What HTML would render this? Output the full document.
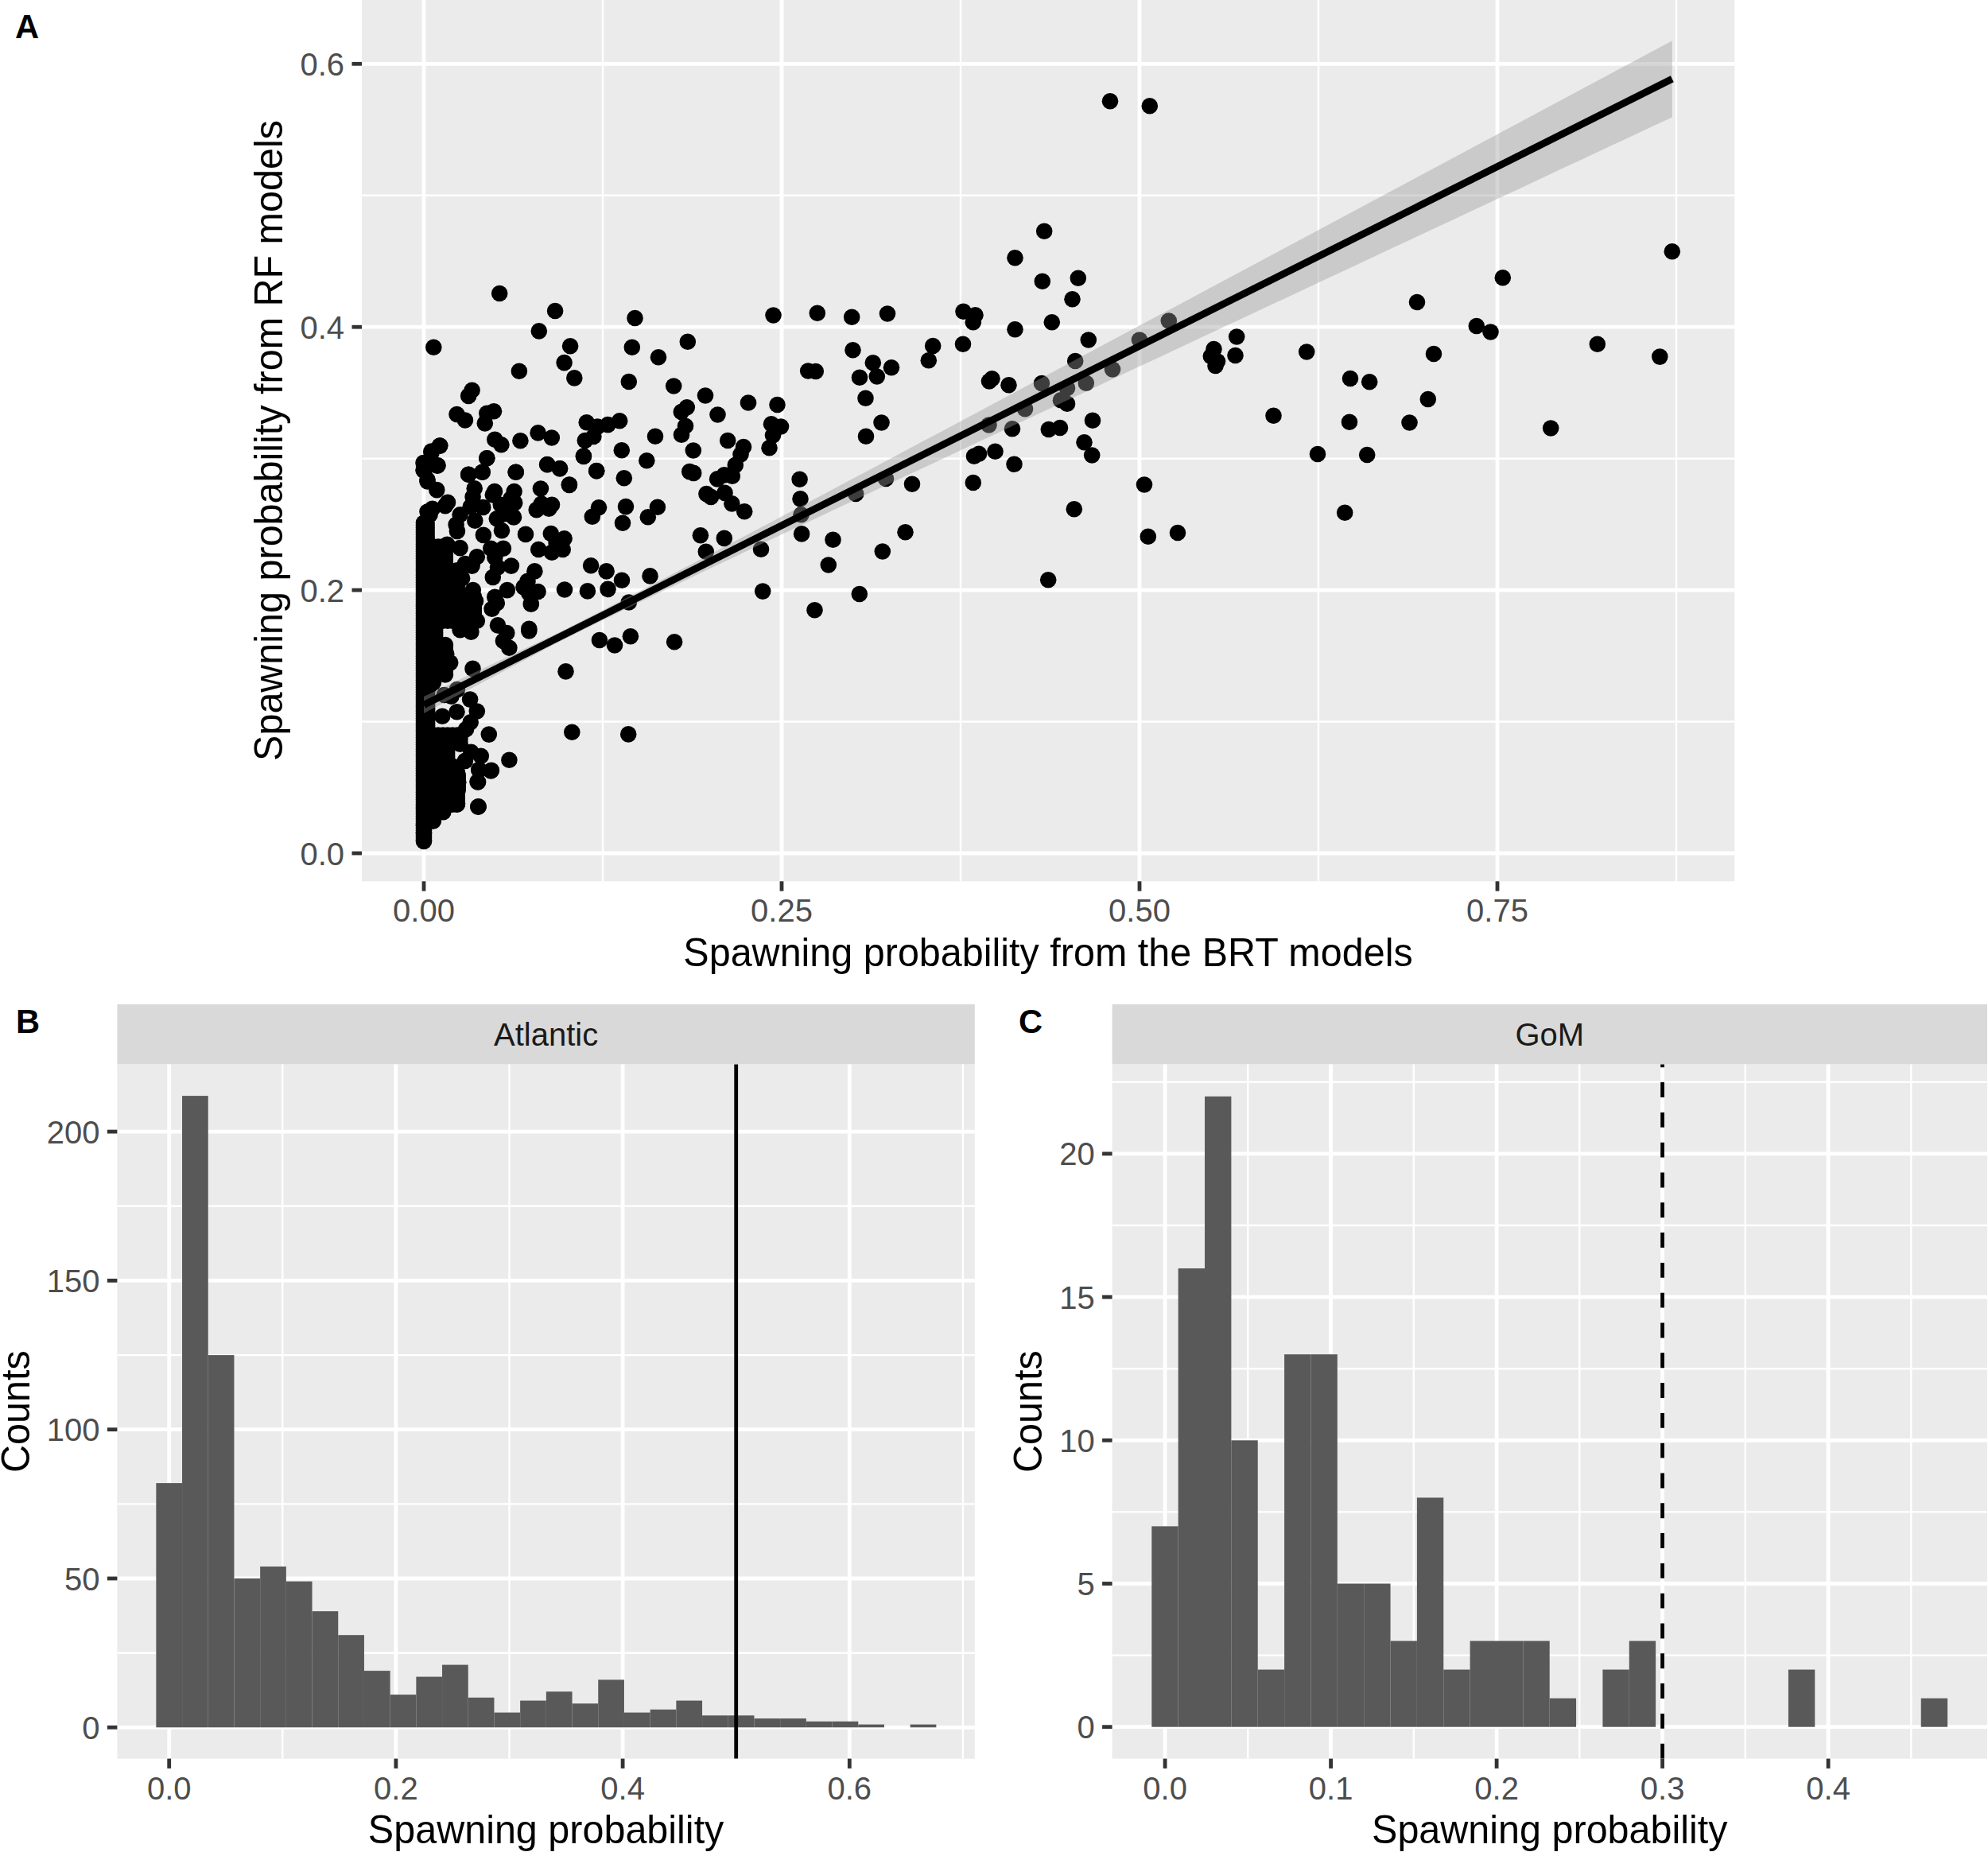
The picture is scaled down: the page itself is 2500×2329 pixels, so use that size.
<!DOCTYPE html><html><head><meta charset="utf-8"><title>Figure</title>
<style>html,body{margin:0;padding:0;background:#fff}svg{display:block}text{font-family:"Liberation Sans",sans-serif}</style></head><body>
<svg width="2500" height="2329" viewBox="0 0 2500 2329">
<rect width="2500" height="2329" fill="#fff"/>
<rect x="455.0" y="0.0" width="1726.3000000000002" height="1108.3" fill="#EBEBEB"/>
<g stroke="#fff" stroke-width="2.4">
<line x1="758.0" x2="758.0" y1="0.0" y2="1108.3"/>
<line x1="1208.0" x2="1208.0" y1="0.0" y2="1108.3"/>
<line x1="1658.0" x2="1658.0" y1="0.0" y2="1108.3"/>
<line x1="2108.0" x2="2108.0" y1="0.0" y2="1108.3"/>
<line y1="907.5" y2="907.5" x1="455.0" x2="2181.3"/>
<line y1="576.7" y2="576.7" x1="455.0" x2="2181.3"/>
<line y1="245.8" y2="245.8" x1="455.0" x2="2181.3"/>
</g>
<g stroke="#fff" stroke-width="4.8">
<line x1="533.0" x2="533.0" y1="0.0" y2="1108.3"/>
<line x1="983.0" x2="983.0" y1="0.0" y2="1108.3"/>
<line x1="1433.0" x2="1433.0" y1="0.0" y2="1108.3"/>
<line x1="1883.0" x2="1883.0" y1="0.0" y2="1108.3"/>
<line y1="1073.0" y2="1073.0" x1="455.0" x2="2181.3"/>
<line y1="742.1" y2="742.1" x1="455.0" x2="2181.3"/>
<line y1="411.2" y2="411.2" x1="455.0" x2="2181.3"/>
<line y1="80.3" y2="80.3" x1="455.0" x2="2181.3"/>
</g>
<g fill="#000">
<circle cx="1889.8" cy="349.2" r="10.3"/>
<circle cx="1782.0" cy="380.0" r="10.3"/>
<circle cx="1856.8" cy="410.0" r="10.3"/>
<circle cx="1874.5" cy="417.5" r="10.3"/>
<circle cx="1555.2" cy="423.5" r="10.3"/>
<circle cx="1526.5" cy="439.0" r="10.3"/>
<circle cx="1522.8" cy="448.0" r="10.3"/>
<circle cx="1531.0" cy="454.5" r="10.3"/>
<circle cx="1528.5" cy="460.0" r="10.3"/>
<circle cx="1553.5" cy="447.0" r="10.3"/>
<circle cx="1643.2" cy="442.5" r="10.3"/>
<circle cx="1803.0" cy="445.0" r="10.3"/>
<circle cx="1698.0" cy="476.0" r="10.3"/>
<circle cx="1722.2" cy="480.2" r="10.3"/>
<circle cx="1795.8" cy="502.0" r="10.3"/>
<circle cx="1601.5" cy="522.8" r="10.3"/>
<circle cx="1697.0" cy="530.8" r="10.3"/>
<circle cx="1772.5" cy="531.5" r="10.3"/>
<circle cx="1950.2" cy="538.5" r="10.3"/>
<circle cx="1657.0" cy="571.0" r="10.3"/>
<circle cx="1719.2" cy="572.0" r="10.3"/>
<circle cx="1313.2" cy="290.8" r="10.3"/>
<circle cx="1276.5" cy="324.2" r="10.3"/>
<circle cx="1310.8" cy="353.8" r="10.3"/>
<circle cx="1355.8" cy="349.8" r="10.3"/>
<circle cx="1348.5" cy="376.2" r="10.3"/>
<circle cx="1027.8" cy="393.8" r="10.3"/>
<circle cx="1071.2" cy="398.8" r="10.3"/>
<circle cx="1116.0" cy="394.5" r="10.3"/>
<circle cx="1211.5" cy="391.8" r="10.3"/>
<circle cx="1226.5" cy="396.2" r="10.3"/>
<circle cx="1223.8" cy="405.2" r="10.3"/>
<circle cx="1322.8" cy="405.2" r="10.3"/>
<circle cx="1276.5" cy="414.2" r="10.3"/>
<circle cx="1368.8" cy="427.5" r="10.3"/>
<circle cx="1469.8" cy="403.5" r="10.3"/>
<circle cx="1433.0" cy="427.5" r="10.3"/>
<circle cx="1072.5" cy="440.2" r="10.3"/>
<circle cx="1173.2" cy="435.0" r="10.3"/>
<circle cx="1211.0" cy="432.8" r="10.3"/>
<circle cx="1167.8" cy="453.2" r="10.3"/>
<circle cx="1097.8" cy="456.2" r="10.3"/>
<circle cx="1121.0" cy="462.2" r="10.3"/>
<circle cx="1025.8" cy="467.0" r="10.3"/>
<circle cx="1081.0" cy="474.8" r="10.3"/>
<circle cx="1102.8" cy="473.5" r="10.3"/>
<circle cx="1352.2" cy="454.0" r="10.3"/>
<circle cx="1399.0" cy="464.5" r="10.3"/>
<circle cx="1247.5" cy="476.2" r="10.3"/>
<circle cx="1244.0" cy="479.5" r="10.3"/>
<circle cx="1268.5" cy="484.2" r="10.3"/>
<circle cx="1310.0" cy="482.0" r="10.3"/>
<circle cx="1342.0" cy="488.0" r="10.3"/>
<circle cx="1365.8" cy="481.8" r="10.3"/>
<circle cx="1088.5" cy="500.8" r="10.3"/>
<circle cx="1334.0" cy="503.2" r="10.3"/>
<circle cx="1342.0" cy="507.8" r="10.3"/>
<circle cx="1289.0" cy="514.2" r="10.3"/>
<circle cx="1108.5" cy="531.5" r="10.3"/>
<circle cx="1374.0" cy="528.8" r="10.3"/>
<circle cx="1243.5" cy="534.5" r="10.3"/>
<circle cx="1273.0" cy="539.2" r="10.3"/>
<circle cx="1318.8" cy="540.0" r="10.3"/>
<circle cx="1333.0" cy="538.0" r="10.3"/>
<circle cx="1089.0" cy="548.8" r="10.3"/>
<circle cx="1363.5" cy="556.2" r="10.3"/>
<circle cx="1373.2" cy="572.5" r="10.3"/>
<circle cx="1231.0" cy="570.8" r="10.3"/>
<circle cx="1225.0" cy="573.8" r="10.3"/>
<circle cx="1251.5" cy="567.8" r="10.3"/>
<circle cx="1275.5" cy="583.8" r="10.3"/>
<circle cx="1114.0" cy="602.0" r="10.3"/>
<circle cx="1147.0" cy="608.8" r="10.3"/>
<circle cx="1223.8" cy="607.0" r="10.3"/>
<circle cx="1439.0" cy="609.5" r="10.3"/>
<circle cx="1076.2" cy="621.0" r="10.3"/>
<circle cx="1350.8" cy="640.2" r="10.3"/>
<circle cx="1138.5" cy="669.2" r="10.3"/>
<circle cx="1047.5" cy="678.8" r="10.3"/>
<circle cx="1109.8" cy="693.5" r="10.3"/>
<circle cx="1041.8" cy="710.5" r="10.3"/>
<circle cx="1443.8" cy="674.8" r="10.3"/>
<circle cx="1481.0" cy="670.0" r="10.3"/>
<circle cx="1318.2" cy="729.2" r="10.3"/>
<circle cx="1080.8" cy="747.0" r="10.3"/>
<circle cx="1024.5" cy="767.2" r="10.3"/>
<circle cx="1396.0" cy="127.2" r="10.3"/>
<circle cx="1445.8" cy="133.2" r="10.3"/>
<circle cx="628.2" cy="369.0" r="10.3"/>
<circle cx="798.5" cy="400.0" r="10.3"/>
<circle cx="972.5" cy="396.5" r="10.3"/>
<circle cx="794.8" cy="436.8" r="10.3"/>
<circle cx="864.8" cy="429.8" r="10.3"/>
<circle cx="828.0" cy="449.2" r="10.3"/>
<circle cx="790.8" cy="480.0" r="10.3"/>
<circle cx="847.2" cy="485.5" r="10.3"/>
<circle cx="1016.2" cy="466.5" r="10.3"/>
<circle cx="887.0" cy="497.5" r="10.3"/>
<circle cx="941.0" cy="506.5" r="10.3"/>
<circle cx="977.5" cy="509.0" r="10.3"/>
<circle cx="863.8" cy="512.2" r="10.3"/>
<circle cx="856.8" cy="518.0" r="10.3"/>
<circle cx="902.5" cy="521.5" r="10.3"/>
<circle cx="779.2" cy="529.2" r="10.3"/>
<circle cx="970.0" cy="533.2" r="10.3"/>
<circle cx="982.0" cy="536.5" r="10.3"/>
<circle cx="862.0" cy="535.8" r="10.3"/>
<circle cx="857.0" cy="546.8" r="10.3"/>
<circle cx="972.0" cy="547.5" r="10.3"/>
<circle cx="824.0" cy="548.8" r="10.3"/>
<circle cx="915.2" cy="554.0" r="10.3"/>
<circle cx="935.0" cy="562.0" r="10.3"/>
<circle cx="967.5" cy="563.2" r="10.3"/>
<circle cx="781.8" cy="566.2" r="10.3"/>
<circle cx="871.8" cy="566.5" r="10.3"/>
<circle cx="931.5" cy="571.5" r="10.3"/>
<circle cx="813.3" cy="579.3" r="10.3"/>
<circle cx="924.8" cy="584.9" r="10.3"/>
<circle cx="784.8" cy="601.2" r="10.3"/>
<circle cx="867.2" cy="593.1" r="10.3"/>
<circle cx="872.2" cy="594.9" r="10.3"/>
<circle cx="920.8" cy="598.7" r="10.3"/>
<circle cx="910.8" cy="597.4" r="10.3"/>
<circle cx="902.1" cy="602.4" r="10.3"/>
<circle cx="1005.6" cy="602.8" r="10.3"/>
<circle cx="888.4" cy="621.1" r="10.3"/>
<circle cx="894.0" cy="624.9" r="10.3"/>
<circle cx="911.5" cy="619.9" r="10.3"/>
<circle cx="920.4" cy="633.4" r="10.3"/>
<circle cx="936.2" cy="643.3" r="10.3"/>
<circle cx="1006.5" cy="627.4" r="10.3"/>
<circle cx="1007.5" cy="647.3" r="10.3"/>
<circle cx="1008.1" cy="671.4" r="10.3"/>
<circle cx="787.0" cy="637.1" r="10.3"/>
<circle cx="826.9" cy="637.7" r="10.3"/>
<circle cx="814.8" cy="650.2" r="10.3"/>
<circle cx="783.0" cy="657.7" r="10.3"/>
<circle cx="880.9" cy="673.3" r="10.3"/>
<circle cx="910.8" cy="676.9" r="10.3"/>
<circle cx="887.8" cy="693.7" r="10.3"/>
<circle cx="957.0" cy="690.7" r="10.3"/>
<circle cx="817.5" cy="724.4" r="10.3"/>
<circle cx="782.0" cy="729.7" r="10.3"/>
<circle cx="959.2" cy="743.6" r="10.3"/>
<circle cx="790.8" cy="757.5" r="10.3"/>
<circle cx="542.5" cy="567.5" r="10.3"/>
<circle cx="553.2" cy="560.6" r="10.3"/>
<circle cx="533.7" cy="582.5" r="10.3"/>
<circle cx="549.9" cy="585.6" r="10.3"/>
<circle cx="532.5" cy="591.2" r="10.3"/>
<circle cx="537.5" cy="605.5" r="10.3"/>
<circle cx="549.3" cy="616.1" r="10.3"/>
<circle cx="563.0" cy="631.7" r="10.3"/>
<circle cx="559.9" cy="636.1" r="10.3"/>
<circle cx="543.7" cy="639.8" r="10.3"/>
<circle cx="537.5" cy="643.6" r="10.3"/>
<circle cx="540.6" cy="647.3" r="10.3"/>
<circle cx="533.7" cy="658.6" r="10.3"/>
<circle cx="535.0" cy="667.3" r="10.3"/>
<circle cx="536.2" cy="676.0" r="10.3"/>
<circle cx="612.3" cy="576.2" r="10.3"/>
<circle cx="606.7" cy="593.7" r="10.3"/>
<circle cx="589.2" cy="596.8" r="10.3"/>
<circle cx="648.7" cy="593.7" r="10.3"/>
<circle cx="688.2" cy="584.3" r="10.3"/>
<circle cx="704.0" cy="589.3" r="10.3"/>
<circle cx="733.9" cy="573.5" r="10.3"/>
<circle cx="750.2" cy="592.2" r="10.3"/>
<circle cx="715.9" cy="609.9" r="10.3"/>
<circle cx="679.9" cy="614.5" r="10.3"/>
<circle cx="596.7" cy="614.3" r="10.3"/>
<circle cx="594.6" cy="624.9" r="10.3"/>
<circle cx="622.0" cy="618.0" r="10.3"/>
<circle cx="619.8" cy="622.4" r="10.3"/>
<circle cx="646.6" cy="618.0" r="10.3"/>
<circle cx="642.3" cy="627.4" r="10.3"/>
<circle cx="647.2" cy="632.4" r="10.3"/>
<circle cx="607.3" cy="638.0" r="10.3"/>
<circle cx="591.7" cy="637.3" r="10.3"/>
<circle cx="629.8" cy="634.8" r="10.3"/>
<circle cx="680.9" cy="633.6" r="10.3"/>
<circle cx="694.0" cy="634.8" r="10.3"/>
<circle cx="674.7" cy="641.1" r="10.3"/>
<circle cx="690.3" cy="639.8" r="10.3"/>
<circle cx="753.0" cy="638.2" r="10.3"/>
<circle cx="744.8" cy="649.8" r="10.3"/>
<circle cx="578.6" cy="647.3" r="10.3"/>
<circle cx="597.3" cy="654.8" r="10.3"/>
<circle cx="573.6" cy="659.8" r="10.3"/>
<circle cx="574.9" cy="667.9" r="10.3"/>
<circle cx="624.8" cy="652.3" r="10.3"/>
<circle cx="646.0" cy="650.4" r="10.3"/>
<circle cx="634.8" cy="646.1" r="10.3"/>
<circle cx="631.0" cy="667.3" r="10.3"/>
<circle cx="607.9" cy="672.9" r="10.3"/>
<circle cx="661.0" cy="671.9" r="10.3"/>
<circle cx="692.8" cy="671.0" r="10.3"/>
<circle cx="709.6" cy="677.3" r="10.3"/>
<circle cx="677.2" cy="691.0" r="10.3"/>
<circle cx="694.0" cy="694.7" r="10.3"/>
<circle cx="707.7" cy="691.0" r="10.3"/>
<circle cx="699.6" cy="682.9" r="10.3"/>
<circle cx="617.3" cy="689.7" r="10.3"/>
<circle cx="632.9" cy="689.7" r="10.3"/>
<circle cx="562.4" cy="684.7" r="10.3"/>
<circle cx="578.6" cy="689.1" r="10.3"/>
<circle cx="599.8" cy="700.3" r="10.3"/>
<circle cx="622.3" cy="701.0" r="10.3"/>
<circle cx="642.9" cy="711.6" r="10.3"/>
<circle cx="584.9" cy="709.1" r="10.3"/>
<circle cx="593.6" cy="711.6" r="10.3"/>
<circle cx="574.9" cy="717.2" r="10.3"/>
<circle cx="626.0" cy="713.4" r="10.3"/>
<circle cx="672.4" cy="718.4" r="10.3"/>
<circle cx="743.1" cy="711.3" r="10.3"/>
<circle cx="762.6" cy="718.4" r="10.3"/>
<circle cx="619.8" cy="725.9" r="10.3"/>
<circle cx="581.1" cy="727.2" r="10.3"/>
<circle cx="663.5" cy="730.9" r="10.3"/>
<circle cx="658.5" cy="738.4" r="10.3"/>
<circle cx="637.9" cy="742.1" r="10.3"/>
<circle cx="676.6" cy="744.0" r="10.3"/>
<circle cx="665.3" cy="745.9" r="10.3"/>
<circle cx="594.8" cy="742.1" r="10.3"/>
<circle cx="710.0" cy="741.5" r="10.3"/>
<circle cx="738.9" cy="743.4" r="10.3"/>
<circle cx="764.5" cy="740.9" r="10.3"/>
<circle cx="622.3" cy="750.9" r="10.3"/>
<circle cx="598.0" cy="755.9" r="10.3"/>
<circle cx="624.8" cy="758.4" r="10.3"/>
<circle cx="667.8" cy="759.6" r="10.3"/>
<circle cx="587.4" cy="752.1" r="10.3"/>
<circle cx="618.6" cy="765.8" r="10.3"/>
<circle cx="588.6" cy="769.6" r="10.3"/>
<circle cx="599.8" cy="780.8" r="10.3"/>
<circle cx="626.0" cy="786.4" r="10.3"/>
<circle cx="665.3" cy="790.8" r="10.3"/>
<circle cx="711.5" cy="844.4" r="10.3"/>
<circle cx="719.3" cy="920.7" r="10.3"/>
<circle cx="614.8" cy="923.6" r="10.3"/>
<circle cx="640.4" cy="955.7" r="10.3"/>
<circle cx="594.5" cy="840.9" r="10.3"/>
<circle cx="753.9" cy="805.0" r="10.3"/>
<circle cx="665.3" cy="793.5" r="10.3"/>
<circle cx="640.4" cy="814.7" r="10.3"/>
<circle cx="632.9" cy="806.0" r="10.3"/>
<circle cx="637.3" cy="796.0" r="10.3"/>
<circle cx="592.4" cy="794.7" r="10.3"/>
<circle cx="578.6" cy="792.2" r="10.3"/>
<circle cx="591.1" cy="879.6" r="10.3"/>
<circle cx="599.8" cy="894.5" r="10.3"/>
<circle cx="574.5" cy="895.2" r="10.3"/>
<circle cx="591.7" cy="908.3" r="10.3"/>
<circle cx="586.1" cy="917.0" r="10.3"/>
<circle cx="574.9" cy="867.1" r="10.3"/>
<circle cx="558.7" cy="874.0" r="10.3"/>
<circle cx="567.4" cy="875.8" r="10.3"/>
<circle cx="556.2" cy="900.8" r="10.3"/>
<circle cx="604.8" cy="950.7" r="10.3"/>
<circle cx="584.9" cy="956.9" r="10.3"/>
<circle cx="592.4" cy="945.7" r="10.3"/>
<circle cx="602.3" cy="968.1" r="10.3"/>
<circle cx="617.9" cy="968.8" r="10.3"/>
<circle cx="600.5" cy="983.1" r="10.3"/>
<circle cx="601.7" cy="1014.3" r="10.3"/>
<circle cx="574.9" cy="971.9" r="10.3"/>
<circle cx="576.1" cy="983.7" r="10.3"/>
<circle cx="573.6" cy="993.1" r="10.3"/>
<circle cx="574.9" cy="1010.6" r="10.3"/>
<circle cx="578.6" cy="935.7" r="10.3"/>
<circle cx="559.9" cy="811.0" r="10.3"/>
<circle cx="561.2" cy="822.2" r="10.3"/>
<circle cx="566.2" cy="833.4" r="10.3"/>
<circle cx="559.9" cy="848.4" r="10.3"/>
<circle cx="544.9" cy="858.4" r="10.3"/>
<circle cx="698.1" cy="391.0" r="10.3"/>
<circle cx="677.8" cy="416.4" r="10.3"/>
<circle cx="545.3" cy="436.8" r="10.3"/>
<circle cx="717.1" cy="435.3" r="10.3"/>
<circle cx="709.6" cy="456.1" r="10.3"/>
<circle cx="652.9" cy="466.7" r="10.3"/>
<circle cx="722.3" cy="475.4" r="10.3"/>
<circle cx="593.6" cy="490.8" r="10.3"/>
<circle cx="589.2" cy="497.9" r="10.3"/>
<circle cx="574.5" cy="521.0" r="10.3"/>
<circle cx="584.9" cy="528.5" r="10.3"/>
<circle cx="621.0" cy="517.2" r="10.3"/>
<circle cx="612.3" cy="519.7" r="10.3"/>
<circle cx="609.8" cy="532.4" r="10.3"/>
<circle cx="737.7" cy="531.2" r="10.3"/>
<circle cx="751.4" cy="536.6" r="10.3"/>
<circle cx="764.5" cy="534.1" r="10.3"/>
<circle cx="676.6" cy="544.4" r="10.3"/>
<circle cx="693.8" cy="550.5" r="10.3"/>
<circle cx="622.3" cy="552.8" r="10.3"/>
<circle cx="630.4" cy="559.3" r="10.3"/>
<circle cx="654.4" cy="554.3" r="10.3"/>
<circle cx="735.8" cy="554.0" r="10.3"/>
<circle cx="746.4" cy="549.0" r="10.3"/>
<circle cx="553.1" cy="560.5" r="10.3"/>
<circle cx="542.5" cy="569.6" r="10.3"/>
<circle cx="733.9" cy="574.0" r="10.3"/>
<circle cx="612.3" cy="576.2" r="10.3"/>
<circle cx="532.5" cy="582.1" r="10.3"/>
<circle cx="550.6" cy="585.2" r="10.3"/>
<circle cx="533.7" cy="592.1" r="10.3"/>
<circle cx="688.2" cy="584.0" r="10.3"/>
<circle cx="704.0" cy="589.2" r="10.3"/>
<circle cx="750.2" cy="592.1" r="10.3"/>
<circle cx="648.7" cy="593.7" r="10.3"/>
<circle cx="606.5" cy="593.7" r="10.3"/>
<circle cx="589.2" cy="596.8" r="10.3"/>
<circle cx="537.5" cy="603.3" r="10.3"/>
<circle cx="715.9" cy="609.5" r="10.3"/>
<circle cx="792.9" cy="800.3" r="10.3"/>
<circle cx="773.0" cy="811.5" r="10.3"/>
<circle cx="848.1" cy="807.2" r="10.3"/>
<circle cx="790.2" cy="923.4" r="10.3"/>
<circle cx="601.1" cy="983.5" r="10.3"/>
<circle cx="601.3" cy="1014.6" r="10.3"/>
<circle cx="617.3" cy="969.4" r="10.3"/>
<circle cx="602.3" cy="968.1" r="10.3"/>
<circle cx="574.9" cy="1011.1" r="10.3"/>
<circle cx="557.4" cy="1021.1" r="10.3"/>
<circle cx="544.9" cy="1032.4" r="10.3"/>
<circle cx="573.6" cy="989.9" r="10.3"/>
<circle cx="574.9" cy="972.5" r="10.3"/>
<circle cx="576.1" cy="983.7" r="10.3"/>
<circle cx="569.9" cy="963.7" r="10.3"/>
<circle cx="533.0" cy="1057.9" r="10.3"/>
<circle cx="533.0" cy="1047.3" r="10.3"/>
<circle cx="533.0" cy="1037.3" r="10.3"/>
<circle cx="2102.8" cy="316.2" r="10.3"/>
<circle cx="2008.8" cy="432.7" r="10.3"/>
<circle cx="2087.3" cy="448.6" r="10.3"/>
<circle cx="1691.2" cy="644.7" r="10.3"/>
<circle cx="533.0" cy="657.6" r="10.3"/>
<circle cx="536.5" cy="657.6" r="10.3"/>
<circle cx="533.0" cy="660.6" r="10.3"/>
<circle cx="536.5" cy="660.6" r="10.3"/>
<circle cx="533.0" cy="663.6" r="10.3"/>
<circle cx="536.5" cy="663.6" r="10.3"/>
<circle cx="533.0" cy="666.6" r="10.3"/>
<circle cx="536.5" cy="666.6" r="10.3"/>
<circle cx="533.0" cy="669.6" r="10.3"/>
<circle cx="536.5" cy="669.6" r="10.3"/>
<circle cx="533.0" cy="672.6" r="10.3"/>
<circle cx="536.5" cy="672.6" r="10.3"/>
<circle cx="533.0" cy="675.6" r="10.3"/>
<circle cx="536.5" cy="675.6" r="10.3"/>
<circle cx="533.0" cy="678.6" r="10.3"/>
<circle cx="536.5" cy="678.6" r="10.3"/>
<circle cx="533.0" cy="681.6" r="10.3"/>
<circle cx="536.5" cy="681.6" r="10.3"/>
<circle cx="533.0" cy="684.6" r="10.3"/>
<circle cx="536.5" cy="684.6" r="10.3"/>
<circle cx="533.0" cy="687.6" r="10.3"/>
<circle cx="539.0" cy="687.6" r="10.3"/>
<circle cx="545.0" cy="687.6" r="10.3"/>
<circle cx="551.0" cy="687.6" r="10.3"/>
<circle cx="557.0" cy="687.6" r="10.3"/>
<circle cx="559.6" cy="687.6" r="10.3"/>
<circle cx="533.0" cy="690.6" r="10.3"/>
<circle cx="539.0" cy="690.6" r="10.3"/>
<circle cx="545.0" cy="690.6" r="10.3"/>
<circle cx="551.0" cy="690.6" r="10.3"/>
<circle cx="557.0" cy="690.6" r="10.3"/>
<circle cx="559.6" cy="690.6" r="10.3"/>
<circle cx="533.0" cy="693.6" r="10.3"/>
<circle cx="539.0" cy="693.6" r="10.3"/>
<circle cx="545.0" cy="693.6" r="10.3"/>
<circle cx="551.0" cy="693.6" r="10.3"/>
<circle cx="557.0" cy="693.6" r="10.3"/>
<circle cx="559.6" cy="693.6" r="10.3"/>
<circle cx="533.0" cy="696.6" r="10.3"/>
<circle cx="539.0" cy="696.6" r="10.3"/>
<circle cx="545.0" cy="696.6" r="10.3"/>
<circle cx="551.0" cy="696.6" r="10.3"/>
<circle cx="557.0" cy="696.6" r="10.3"/>
<circle cx="559.6" cy="696.6" r="10.3"/>
<circle cx="533.0" cy="699.6" r="10.3"/>
<circle cx="539.0" cy="699.6" r="10.3"/>
<circle cx="545.0" cy="699.6" r="10.3"/>
<circle cx="551.0" cy="699.6" r="10.3"/>
<circle cx="557.0" cy="699.6" r="10.3"/>
<circle cx="559.6" cy="699.6" r="10.3"/>
<circle cx="533.0" cy="702.6" r="10.3"/>
<circle cx="539.0" cy="702.6" r="10.3"/>
<circle cx="545.0" cy="702.6" r="10.3"/>
<circle cx="551.0" cy="702.6" r="10.3"/>
<circle cx="557.0" cy="702.6" r="10.3"/>
<circle cx="559.6" cy="702.6" r="10.3"/>
<circle cx="533.0" cy="705.6" r="10.3"/>
<circle cx="539.0" cy="705.6" r="10.3"/>
<circle cx="545.0" cy="705.6" r="10.3"/>
<circle cx="551.0" cy="705.6" r="10.3"/>
<circle cx="557.0" cy="705.6" r="10.3"/>
<circle cx="559.6" cy="705.6" r="10.3"/>
<circle cx="533.0" cy="708.6" r="10.3"/>
<circle cx="539.0" cy="708.6" r="10.3"/>
<circle cx="545.0" cy="708.6" r="10.3"/>
<circle cx="551.0" cy="708.6" r="10.3"/>
<circle cx="557.0" cy="708.6" r="10.3"/>
<circle cx="559.6" cy="708.6" r="10.3"/>
<circle cx="533.0" cy="711.6" r="10.3"/>
<circle cx="539.0" cy="711.6" r="10.3"/>
<circle cx="545.0" cy="711.6" r="10.3"/>
<circle cx="551.0" cy="711.6" r="10.3"/>
<circle cx="557.0" cy="711.6" r="10.3"/>
<circle cx="559.6" cy="711.6" r="10.3"/>
<circle cx="533.0" cy="714.6" r="10.3"/>
<circle cx="539.0" cy="714.6" r="10.3"/>
<circle cx="545.0" cy="714.6" r="10.3"/>
<circle cx="551.0" cy="714.6" r="10.3"/>
<circle cx="557.0" cy="714.6" r="10.3"/>
<circle cx="559.6" cy="714.6" r="10.3"/>
<circle cx="533.0" cy="717.6" r="10.3"/>
<circle cx="539.0" cy="717.6" r="10.3"/>
<circle cx="545.0" cy="717.6" r="10.3"/>
<circle cx="551.0" cy="717.6" r="10.3"/>
<circle cx="557.0" cy="717.6" r="10.3"/>
<circle cx="559.6" cy="717.6" r="10.3"/>
<circle cx="533.0" cy="720.6" r="10.3"/>
<circle cx="539.0" cy="720.6" r="10.3"/>
<circle cx="545.0" cy="720.6" r="10.3"/>
<circle cx="551.0" cy="720.6" r="10.3"/>
<circle cx="557.0" cy="720.6" r="10.3"/>
<circle cx="559.6" cy="720.6" r="10.3"/>
<circle cx="533.0" cy="723.6" r="10.3"/>
<circle cx="539.0" cy="723.6" r="10.3"/>
<circle cx="545.0" cy="723.6" r="10.3"/>
<circle cx="551.0" cy="723.6" r="10.3"/>
<circle cx="557.0" cy="723.6" r="10.3"/>
<circle cx="559.6" cy="723.6" r="10.3"/>
<circle cx="533.0" cy="726.6" r="10.3"/>
<circle cx="539.0" cy="726.6" r="10.3"/>
<circle cx="545.0" cy="726.6" r="10.3"/>
<circle cx="551.0" cy="726.6" r="10.3"/>
<circle cx="557.0" cy="726.6" r="10.3"/>
<circle cx="563.0" cy="726.6" r="10.3"/>
<circle cx="569.0" cy="726.6" r="10.3"/>
<circle cx="574.6" cy="726.6" r="10.3"/>
<circle cx="533.0" cy="729.6" r="10.3"/>
<circle cx="539.0" cy="729.6" r="10.3"/>
<circle cx="545.0" cy="729.6" r="10.3"/>
<circle cx="551.0" cy="729.6" r="10.3"/>
<circle cx="557.0" cy="729.6" r="10.3"/>
<circle cx="563.0" cy="729.6" r="10.3"/>
<circle cx="569.0" cy="729.6" r="10.3"/>
<circle cx="574.6" cy="729.6" r="10.3"/>
<circle cx="533.0" cy="732.6" r="10.3"/>
<circle cx="539.0" cy="732.6" r="10.3"/>
<circle cx="545.0" cy="732.6" r="10.3"/>
<circle cx="551.0" cy="732.6" r="10.3"/>
<circle cx="557.0" cy="732.6" r="10.3"/>
<circle cx="563.0" cy="732.6" r="10.3"/>
<circle cx="569.0" cy="732.6" r="10.3"/>
<circle cx="574.6" cy="732.6" r="10.3"/>
<circle cx="533.0" cy="735.6" r="10.3"/>
<circle cx="539.0" cy="735.6" r="10.3"/>
<circle cx="545.0" cy="735.6" r="10.3"/>
<circle cx="551.0" cy="735.6" r="10.3"/>
<circle cx="557.0" cy="735.6" r="10.3"/>
<circle cx="563.0" cy="735.6" r="10.3"/>
<circle cx="569.0" cy="735.6" r="10.3"/>
<circle cx="574.6" cy="735.6" r="10.3"/>
<circle cx="533.0" cy="738.6" r="10.3"/>
<circle cx="539.0" cy="738.6" r="10.3"/>
<circle cx="545.0" cy="738.6" r="10.3"/>
<circle cx="551.0" cy="738.6" r="10.3"/>
<circle cx="557.0" cy="738.6" r="10.3"/>
<circle cx="563.0" cy="738.6" r="10.3"/>
<circle cx="569.0" cy="738.6" r="10.3"/>
<circle cx="574.6" cy="738.6" r="10.3"/>
<circle cx="533.0" cy="741.6" r="10.3"/>
<circle cx="539.0" cy="741.6" r="10.3"/>
<circle cx="545.0" cy="741.6" r="10.3"/>
<circle cx="551.0" cy="741.6" r="10.3"/>
<circle cx="557.0" cy="741.6" r="10.3"/>
<circle cx="563.0" cy="741.6" r="10.3"/>
<circle cx="569.0" cy="741.6" r="10.3"/>
<circle cx="574.6" cy="741.6" r="10.3"/>
<circle cx="533.0" cy="744.6" r="10.3"/>
<circle cx="539.0" cy="744.6" r="10.3"/>
<circle cx="545.0" cy="744.6" r="10.3"/>
<circle cx="551.0" cy="744.6" r="10.3"/>
<circle cx="557.0" cy="744.6" r="10.3"/>
<circle cx="563.0" cy="744.6" r="10.3"/>
<circle cx="569.0" cy="744.6" r="10.3"/>
<circle cx="574.6" cy="744.6" r="10.3"/>
<circle cx="533.0" cy="747.6" r="10.3"/>
<circle cx="539.0" cy="747.6" r="10.3"/>
<circle cx="545.0" cy="747.6" r="10.3"/>
<circle cx="551.0" cy="747.6" r="10.3"/>
<circle cx="557.0" cy="747.6" r="10.3"/>
<circle cx="563.0" cy="747.6" r="10.3"/>
<circle cx="569.0" cy="747.6" r="10.3"/>
<circle cx="574.6" cy="747.6" r="10.3"/>
<circle cx="533.0" cy="750.6" r="10.3"/>
<circle cx="539.0" cy="750.6" r="10.3"/>
<circle cx="545.0" cy="750.6" r="10.3"/>
<circle cx="551.0" cy="750.6" r="10.3"/>
<circle cx="557.0" cy="750.6" r="10.3"/>
<circle cx="563.0" cy="750.6" r="10.3"/>
<circle cx="569.0" cy="750.6" r="10.3"/>
<circle cx="575.0" cy="750.6" r="10.3"/>
<circle cx="581.0" cy="750.6" r="10.3"/>
<circle cx="587.0" cy="750.6" r="10.3"/>
<circle cx="593.0" cy="750.6" r="10.3"/>
<circle cx="595.8" cy="750.6" r="10.3"/>
<circle cx="533.0" cy="753.6" r="10.3"/>
<circle cx="539.0" cy="753.6" r="10.3"/>
<circle cx="545.0" cy="753.6" r="10.3"/>
<circle cx="551.0" cy="753.6" r="10.3"/>
<circle cx="557.0" cy="753.6" r="10.3"/>
<circle cx="563.0" cy="753.6" r="10.3"/>
<circle cx="569.0" cy="753.6" r="10.3"/>
<circle cx="575.0" cy="753.6" r="10.3"/>
<circle cx="581.0" cy="753.6" r="10.3"/>
<circle cx="587.0" cy="753.6" r="10.3"/>
<circle cx="593.0" cy="753.6" r="10.3"/>
<circle cx="595.8" cy="753.6" r="10.3"/>
<circle cx="533.0" cy="756.6" r="10.3"/>
<circle cx="539.0" cy="756.6" r="10.3"/>
<circle cx="545.0" cy="756.6" r="10.3"/>
<circle cx="551.0" cy="756.6" r="10.3"/>
<circle cx="557.0" cy="756.6" r="10.3"/>
<circle cx="563.0" cy="756.6" r="10.3"/>
<circle cx="569.0" cy="756.6" r="10.3"/>
<circle cx="575.0" cy="756.6" r="10.3"/>
<circle cx="581.0" cy="756.6" r="10.3"/>
<circle cx="587.0" cy="756.6" r="10.3"/>
<circle cx="593.0" cy="756.6" r="10.3"/>
<circle cx="595.8" cy="756.6" r="10.3"/>
<circle cx="533.0" cy="759.6" r="10.3"/>
<circle cx="539.0" cy="759.6" r="10.3"/>
<circle cx="545.0" cy="759.6" r="10.3"/>
<circle cx="551.0" cy="759.6" r="10.3"/>
<circle cx="557.0" cy="759.6" r="10.3"/>
<circle cx="563.0" cy="759.6" r="10.3"/>
<circle cx="569.0" cy="759.6" r="10.3"/>
<circle cx="575.0" cy="759.6" r="10.3"/>
<circle cx="581.0" cy="759.6" r="10.3"/>
<circle cx="587.0" cy="759.6" r="10.3"/>
<circle cx="593.0" cy="759.6" r="10.3"/>
<circle cx="595.8" cy="759.6" r="10.3"/>
<circle cx="533.0" cy="762.6" r="10.3"/>
<circle cx="539.0" cy="762.6" r="10.3"/>
<circle cx="545.0" cy="762.6" r="10.3"/>
<circle cx="551.0" cy="762.6" r="10.3"/>
<circle cx="557.0" cy="762.6" r="10.3"/>
<circle cx="563.0" cy="762.6" r="10.3"/>
<circle cx="569.0" cy="762.6" r="10.3"/>
<circle cx="575.0" cy="762.6" r="10.3"/>
<circle cx="581.0" cy="762.6" r="10.3"/>
<circle cx="587.0" cy="762.6" r="10.3"/>
<circle cx="593.0" cy="762.6" r="10.3"/>
<circle cx="595.8" cy="762.6" r="10.3"/>
<circle cx="533.0" cy="765.6" r="10.3"/>
<circle cx="539.0" cy="765.6" r="10.3"/>
<circle cx="545.0" cy="765.6" r="10.3"/>
<circle cx="551.0" cy="765.6" r="10.3"/>
<circle cx="557.0" cy="765.6" r="10.3"/>
<circle cx="563.0" cy="765.6" r="10.3"/>
<circle cx="569.0" cy="765.6" r="10.3"/>
<circle cx="575.0" cy="765.6" r="10.3"/>
<circle cx="581.0" cy="765.6" r="10.3"/>
<circle cx="587.0" cy="765.6" r="10.3"/>
<circle cx="593.0" cy="765.6" r="10.3"/>
<circle cx="595.8" cy="765.6" r="10.3"/>
<circle cx="533.0" cy="768.6" r="10.3"/>
<circle cx="539.0" cy="768.6" r="10.3"/>
<circle cx="545.0" cy="768.6" r="10.3"/>
<circle cx="551.0" cy="768.6" r="10.3"/>
<circle cx="557.0" cy="768.6" r="10.3"/>
<circle cx="563.0" cy="768.6" r="10.3"/>
<circle cx="569.0" cy="768.6" r="10.3"/>
<circle cx="575.0" cy="768.6" r="10.3"/>
<circle cx="581.0" cy="768.6" r="10.3"/>
<circle cx="587.0" cy="768.6" r="10.3"/>
<circle cx="593.0" cy="768.6" r="10.3"/>
<circle cx="595.8" cy="768.6" r="10.3"/>
<circle cx="533.0" cy="771.6" r="10.3"/>
<circle cx="539.0" cy="771.6" r="10.3"/>
<circle cx="545.0" cy="771.6" r="10.3"/>
<circle cx="551.0" cy="771.6" r="10.3"/>
<circle cx="557.0" cy="771.6" r="10.3"/>
<circle cx="563.0" cy="771.6" r="10.3"/>
<circle cx="569.0" cy="771.6" r="10.3"/>
<circle cx="575.0" cy="771.6" r="10.3"/>
<circle cx="581.0" cy="771.6" r="10.3"/>
<circle cx="587.0" cy="771.6" r="10.3"/>
<circle cx="593.0" cy="771.6" r="10.3"/>
<circle cx="595.8" cy="771.6" r="10.3"/>
<circle cx="533.0" cy="774.6" r="10.3"/>
<circle cx="539.0" cy="774.6" r="10.3"/>
<circle cx="545.0" cy="774.6" r="10.3"/>
<circle cx="551.0" cy="774.6" r="10.3"/>
<circle cx="557.0" cy="774.6" r="10.3"/>
<circle cx="563.0" cy="774.6" r="10.3"/>
<circle cx="569.0" cy="774.6" r="10.3"/>
<circle cx="575.0" cy="774.6" r="10.3"/>
<circle cx="581.0" cy="774.6" r="10.3"/>
<circle cx="587.0" cy="774.6" r="10.3"/>
<circle cx="593.0" cy="774.6" r="10.3"/>
<circle cx="595.8" cy="774.6" r="10.3"/>
<circle cx="533.0" cy="777.6" r="10.3"/>
<circle cx="539.0" cy="777.6" r="10.3"/>
<circle cx="545.0" cy="777.6" r="10.3"/>
<circle cx="551.0" cy="777.6" r="10.3"/>
<circle cx="557.0" cy="777.6" r="10.3"/>
<circle cx="563.0" cy="777.6" r="10.3"/>
<circle cx="569.0" cy="777.6" r="10.3"/>
<circle cx="575.0" cy="777.6" r="10.3"/>
<circle cx="581.0" cy="777.6" r="10.3"/>
<circle cx="587.0" cy="777.6" r="10.3"/>
<circle cx="593.0" cy="777.6" r="10.3"/>
<circle cx="595.8" cy="777.6" r="10.3"/>
<circle cx="533.0" cy="780.6" r="10.3"/>
<circle cx="539.0" cy="780.6" r="10.3"/>
<circle cx="545.0" cy="780.6" r="10.3"/>
<circle cx="551.0" cy="780.6" r="10.3"/>
<circle cx="557.0" cy="780.6" r="10.3"/>
<circle cx="563.0" cy="780.6" r="10.3"/>
<circle cx="569.0" cy="780.6" r="10.3"/>
<circle cx="575.0" cy="780.6" r="10.3"/>
<circle cx="581.0" cy="780.6" r="10.3"/>
<circle cx="587.0" cy="780.6" r="10.3"/>
<circle cx="593.0" cy="780.6" r="10.3"/>
<circle cx="595.8" cy="780.6" r="10.3"/>
<circle cx="533.0" cy="783.6" r="10.3"/>
<circle cx="539.0" cy="783.6" r="10.3"/>
<circle cx="545.0" cy="783.6" r="10.3"/>
<circle cx="547.1" cy="783.6" r="10.3"/>
<circle cx="533.0" cy="786.6" r="10.3"/>
<circle cx="539.0" cy="786.6" r="10.3"/>
<circle cx="545.0" cy="786.6" r="10.3"/>
<circle cx="547.1" cy="786.6" r="10.3"/>
<circle cx="533.0" cy="789.6" r="10.3"/>
<circle cx="539.0" cy="789.6" r="10.3"/>
<circle cx="545.0" cy="789.6" r="10.3"/>
<circle cx="547.1" cy="789.6" r="10.3"/>
<circle cx="533.0" cy="792.6" r="10.3"/>
<circle cx="539.0" cy="792.6" r="10.3"/>
<circle cx="545.0" cy="792.6" r="10.3"/>
<circle cx="547.1" cy="792.6" r="10.3"/>
<circle cx="533.0" cy="795.6" r="10.3"/>
<circle cx="539.0" cy="795.6" r="10.3"/>
<circle cx="545.0" cy="795.6" r="10.3"/>
<circle cx="547.1" cy="795.6" r="10.3"/>
<circle cx="533.0" cy="798.6" r="10.3"/>
<circle cx="539.0" cy="798.6" r="10.3"/>
<circle cx="545.0" cy="798.6" r="10.3"/>
<circle cx="547.1" cy="798.6" r="10.3"/>
<circle cx="533.0" cy="801.6" r="10.3"/>
<circle cx="539.0" cy="801.6" r="10.3"/>
<circle cx="545.0" cy="801.6" r="10.3"/>
<circle cx="547.1" cy="801.6" r="10.3"/>
<circle cx="533.0" cy="804.6" r="10.3"/>
<circle cx="539.0" cy="804.6" r="10.3"/>
<circle cx="545.0" cy="804.6" r="10.3"/>
<circle cx="547.1" cy="804.6" r="10.3"/>
<circle cx="533.0" cy="807.6" r="10.3"/>
<circle cx="539.0" cy="807.6" r="10.3"/>
<circle cx="545.0" cy="807.6" r="10.3"/>
<circle cx="547.1" cy="807.6" r="10.3"/>
<circle cx="533.0" cy="810.6" r="10.3"/>
<circle cx="539.0" cy="810.6" r="10.3"/>
<circle cx="545.0" cy="810.6" r="10.3"/>
<circle cx="547.1" cy="810.6" r="10.3"/>
<circle cx="533.0" cy="813.6" r="10.3"/>
<circle cx="539.0" cy="813.6" r="10.3"/>
<circle cx="545.0" cy="813.6" r="10.3"/>
<circle cx="551.0" cy="813.6" r="10.3"/>
<circle cx="557.0" cy="813.6" r="10.3"/>
<circle cx="559.6" cy="813.6" r="10.3"/>
<circle cx="533.0" cy="816.6" r="10.3"/>
<circle cx="539.0" cy="816.6" r="10.3"/>
<circle cx="545.0" cy="816.6" r="10.3"/>
<circle cx="551.0" cy="816.6" r="10.3"/>
<circle cx="557.0" cy="816.6" r="10.3"/>
<circle cx="559.6" cy="816.6" r="10.3"/>
<circle cx="533.0" cy="819.6" r="10.3"/>
<circle cx="539.0" cy="819.6" r="10.3"/>
<circle cx="545.0" cy="819.6" r="10.3"/>
<circle cx="551.0" cy="819.6" r="10.3"/>
<circle cx="557.0" cy="819.6" r="10.3"/>
<circle cx="559.6" cy="819.6" r="10.3"/>
<circle cx="533.0" cy="822.6" r="10.3"/>
<circle cx="539.0" cy="822.6" r="10.3"/>
<circle cx="545.0" cy="822.6" r="10.3"/>
<circle cx="551.0" cy="822.6" r="10.3"/>
<circle cx="557.0" cy="822.6" r="10.3"/>
<circle cx="559.6" cy="822.6" r="10.3"/>
<circle cx="533.0" cy="825.6" r="10.3"/>
<circle cx="539.0" cy="825.6" r="10.3"/>
<circle cx="545.0" cy="825.6" r="10.3"/>
<circle cx="551.0" cy="825.6" r="10.3"/>
<circle cx="557.0" cy="825.6" r="10.3"/>
<circle cx="559.6" cy="825.6" r="10.3"/>
<circle cx="533.0" cy="828.6" r="10.3"/>
<circle cx="539.0" cy="828.6" r="10.3"/>
<circle cx="545.0" cy="828.6" r="10.3"/>
<circle cx="551.0" cy="828.6" r="10.3"/>
<circle cx="557.0" cy="828.6" r="10.3"/>
<circle cx="559.6" cy="828.6" r="10.3"/>
<circle cx="533.0" cy="831.6" r="10.3"/>
<circle cx="539.0" cy="831.6" r="10.3"/>
<circle cx="545.0" cy="831.6" r="10.3"/>
<circle cx="551.0" cy="831.6" r="10.3"/>
<circle cx="557.0" cy="831.6" r="10.3"/>
<circle cx="559.6" cy="831.6" r="10.3"/>
<circle cx="533.0" cy="834.6" r="10.3"/>
<circle cx="539.0" cy="834.6" r="10.3"/>
<circle cx="545.0" cy="834.6" r="10.3"/>
<circle cx="551.0" cy="834.6" r="10.3"/>
<circle cx="557.0" cy="834.6" r="10.3"/>
<circle cx="559.6" cy="834.6" r="10.3"/>
<circle cx="533.0" cy="837.6" r="10.3"/>
<circle cx="539.0" cy="837.6" r="10.3"/>
<circle cx="545.0" cy="837.6" r="10.3"/>
<circle cx="551.0" cy="837.6" r="10.3"/>
<circle cx="557.0" cy="837.6" r="10.3"/>
<circle cx="559.6" cy="837.6" r="10.3"/>
<circle cx="533.0" cy="840.6" r="10.3"/>
<circle cx="539.0" cy="840.6" r="10.3"/>
<circle cx="545.0" cy="840.6" r="10.3"/>
<circle cx="551.0" cy="840.6" r="10.3"/>
<circle cx="557.0" cy="840.6" r="10.3"/>
<circle cx="559.6" cy="840.6" r="10.3"/>
<circle cx="533.0" cy="843.6" r="10.3"/>
<circle cx="539.0" cy="843.6" r="10.3"/>
<circle cx="545.0" cy="843.6" r="10.3"/>
<circle cx="551.0" cy="843.6" r="10.3"/>
<circle cx="557.0" cy="843.6" r="10.3"/>
<circle cx="559.6" cy="843.6" r="10.3"/>
<circle cx="533.0" cy="846.6" r="10.3"/>
<circle cx="539.0" cy="846.6" r="10.3"/>
<circle cx="545.0" cy="846.6" r="10.3"/>
<circle cx="551.0" cy="846.6" r="10.3"/>
<circle cx="557.0" cy="846.6" r="10.3"/>
<circle cx="559.6" cy="846.6" r="10.3"/>
<circle cx="533.0" cy="849.6" r="10.3"/>
<circle cx="539.0" cy="849.6" r="10.3"/>
<circle cx="540.9" cy="849.6" r="10.3"/>
<circle cx="533.0" cy="852.6" r="10.3"/>
<circle cx="539.0" cy="852.6" r="10.3"/>
<circle cx="540.9" cy="852.6" r="10.3"/>
<circle cx="533.0" cy="855.6" r="10.3"/>
<circle cx="539.0" cy="855.6" r="10.3"/>
<circle cx="540.9" cy="855.6" r="10.3"/>
<circle cx="533.0" cy="858.6" r="10.3"/>
<circle cx="539.0" cy="858.6" r="10.3"/>
<circle cx="540.9" cy="858.6" r="10.3"/>
<circle cx="533.0" cy="861.6" r="10.3"/>
<circle cx="539.0" cy="861.6" r="10.3"/>
<circle cx="540.9" cy="861.6" r="10.3"/>
<circle cx="533.0" cy="864.6" r="10.3"/>
<circle cx="537.1" cy="864.6" r="10.3"/>
<circle cx="533.0" cy="867.6" r="10.3"/>
<circle cx="537.1" cy="867.6" r="10.3"/>
<circle cx="533.0" cy="870.6" r="10.3"/>
<circle cx="537.1" cy="870.6" r="10.3"/>
<circle cx="533.0" cy="873.6" r="10.3"/>
<circle cx="537.1" cy="873.6" r="10.3"/>
<circle cx="533.0" cy="876.6" r="10.3"/>
<circle cx="537.1" cy="876.6" r="10.3"/>
<circle cx="533.0" cy="879.6" r="10.3"/>
<circle cx="537.1" cy="879.6" r="10.3"/>
<circle cx="533.0" cy="882.6" r="10.3"/>
<circle cx="537.1" cy="882.6" r="10.3"/>
<circle cx="533.0" cy="885.6" r="10.3"/>
<circle cx="537.1" cy="885.6" r="10.3"/>
<circle cx="533.0" cy="888.6" r="10.3"/>
<circle cx="537.1" cy="888.6" r="10.3"/>
<circle cx="533.0" cy="891.6" r="10.3"/>
<circle cx="537.1" cy="891.6" r="10.3"/>
<circle cx="533.0" cy="894.6" r="10.3"/>
<circle cx="537.1" cy="894.6" r="10.3"/>
<circle cx="533.0" cy="897.6" r="10.3"/>
<circle cx="537.1" cy="897.6" r="10.3"/>
<circle cx="533.0" cy="900.6" r="10.3"/>
<circle cx="537.1" cy="900.6" r="10.3"/>
<circle cx="533.0" cy="903.6" r="10.3"/>
<circle cx="537.1" cy="903.6" r="10.3"/>
<circle cx="533.0" cy="906.6" r="10.3"/>
<circle cx="537.1" cy="906.6" r="10.3"/>
<circle cx="533.0" cy="909.6" r="10.3"/>
<circle cx="537.1" cy="909.6" r="10.3"/>
<circle cx="533.0" cy="912.6" r="10.3"/>
<circle cx="537.1" cy="912.6" r="10.3"/>
<circle cx="533.0" cy="915.6" r="10.3"/>
<circle cx="537.1" cy="915.6" r="10.3"/>
<circle cx="533.0" cy="918.6" r="10.3"/>
<circle cx="537.1" cy="918.6" r="10.3"/>
<circle cx="533.0" cy="921.6" r="10.3"/>
<circle cx="537.1" cy="921.6" r="10.3"/>
<circle cx="533.0" cy="924.6" r="10.3"/>
<circle cx="539.0" cy="924.6" r="10.3"/>
<circle cx="545.0" cy="924.6" r="10.3"/>
<circle cx="551.0" cy="924.6" r="10.3"/>
<circle cx="557.0" cy="924.6" r="10.3"/>
<circle cx="563.0" cy="924.6" r="10.3"/>
<circle cx="569.0" cy="924.6" r="10.3"/>
<circle cx="575.0" cy="924.6" r="10.3"/>
<circle cx="578.3" cy="924.6" r="10.3"/>
<circle cx="533.0" cy="927.6" r="10.3"/>
<circle cx="539.0" cy="927.6" r="10.3"/>
<circle cx="545.0" cy="927.6" r="10.3"/>
<circle cx="551.0" cy="927.6" r="10.3"/>
<circle cx="557.0" cy="927.6" r="10.3"/>
<circle cx="563.0" cy="927.6" r="10.3"/>
<circle cx="569.0" cy="927.6" r="10.3"/>
<circle cx="575.0" cy="927.6" r="10.3"/>
<circle cx="578.3" cy="927.6" r="10.3"/>
<circle cx="533.0" cy="930.6" r="10.3"/>
<circle cx="539.0" cy="930.6" r="10.3"/>
<circle cx="545.0" cy="930.6" r="10.3"/>
<circle cx="551.0" cy="930.6" r="10.3"/>
<circle cx="557.0" cy="930.6" r="10.3"/>
<circle cx="563.0" cy="930.6" r="10.3"/>
<circle cx="569.0" cy="930.6" r="10.3"/>
<circle cx="575.0" cy="930.6" r="10.3"/>
<circle cx="578.3" cy="930.6" r="10.3"/>
<circle cx="533.0" cy="933.6" r="10.3"/>
<circle cx="539.0" cy="933.6" r="10.3"/>
<circle cx="545.0" cy="933.6" r="10.3"/>
<circle cx="551.0" cy="933.6" r="10.3"/>
<circle cx="557.0" cy="933.6" r="10.3"/>
<circle cx="562.1" cy="933.6" r="10.3"/>
<circle cx="533.0" cy="936.6" r="10.3"/>
<circle cx="539.0" cy="936.6" r="10.3"/>
<circle cx="545.0" cy="936.6" r="10.3"/>
<circle cx="551.0" cy="936.6" r="10.3"/>
<circle cx="557.0" cy="936.6" r="10.3"/>
<circle cx="562.1" cy="936.6" r="10.3"/>
<circle cx="533.0" cy="939.6" r="10.3"/>
<circle cx="539.0" cy="939.6" r="10.3"/>
<circle cx="545.0" cy="939.6" r="10.3"/>
<circle cx="551.0" cy="939.6" r="10.3"/>
<circle cx="557.0" cy="939.6" r="10.3"/>
<circle cx="562.1" cy="939.6" r="10.3"/>
<circle cx="533.0" cy="942.6" r="10.3"/>
<circle cx="539.0" cy="942.6" r="10.3"/>
<circle cx="545.0" cy="942.6" r="10.3"/>
<circle cx="551.0" cy="942.6" r="10.3"/>
<circle cx="557.0" cy="942.6" r="10.3"/>
<circle cx="562.1" cy="942.6" r="10.3"/>
<circle cx="533.0" cy="945.6" r="10.3"/>
<circle cx="539.0" cy="945.6" r="10.3"/>
<circle cx="545.0" cy="945.6" r="10.3"/>
<circle cx="551.0" cy="945.6" r="10.3"/>
<circle cx="557.0" cy="945.6" r="10.3"/>
<circle cx="562.1" cy="945.6" r="10.3"/>
<circle cx="533.0" cy="948.6" r="10.3"/>
<circle cx="539.0" cy="948.6" r="10.3"/>
<circle cx="545.0" cy="948.6" r="10.3"/>
<circle cx="551.0" cy="948.6" r="10.3"/>
<circle cx="557.0" cy="948.6" r="10.3"/>
<circle cx="562.1" cy="948.6" r="10.3"/>
<circle cx="533.0" cy="951.6" r="10.3"/>
<circle cx="539.0" cy="951.6" r="10.3"/>
<circle cx="545.0" cy="951.6" r="10.3"/>
<circle cx="551.0" cy="951.6" r="10.3"/>
<circle cx="557.0" cy="951.6" r="10.3"/>
<circle cx="562.1" cy="951.6" r="10.3"/>
<circle cx="533.0" cy="954.6" r="10.3"/>
<circle cx="539.0" cy="954.6" r="10.3"/>
<circle cx="545.0" cy="954.6" r="10.3"/>
<circle cx="551.0" cy="954.6" r="10.3"/>
<circle cx="557.0" cy="954.6" r="10.3"/>
<circle cx="562.1" cy="954.6" r="10.3"/>
<circle cx="533.0" cy="957.6" r="10.3"/>
<circle cx="539.0" cy="957.6" r="10.3"/>
<circle cx="545.0" cy="957.6" r="10.3"/>
<circle cx="551.0" cy="957.6" r="10.3"/>
<circle cx="557.0" cy="957.6" r="10.3"/>
<circle cx="562.1" cy="957.6" r="10.3"/>
<circle cx="533.0" cy="960.6" r="10.3"/>
<circle cx="539.0" cy="960.6" r="10.3"/>
<circle cx="545.0" cy="960.6" r="10.3"/>
<circle cx="551.0" cy="960.6" r="10.3"/>
<circle cx="557.0" cy="960.6" r="10.3"/>
<circle cx="562.1" cy="960.6" r="10.3"/>
<circle cx="533.0" cy="963.6" r="10.3"/>
<circle cx="539.0" cy="963.6" r="10.3"/>
<circle cx="545.0" cy="963.6" r="10.3"/>
<circle cx="551.0" cy="963.6" r="10.3"/>
<circle cx="557.0" cy="963.6" r="10.3"/>
<circle cx="562.1" cy="963.6" r="10.3"/>
<circle cx="533.0" cy="966.6" r="10.3"/>
<circle cx="539.0" cy="966.6" r="10.3"/>
<circle cx="545.0" cy="966.6" r="10.3"/>
<circle cx="551.0" cy="966.6" r="10.3"/>
<circle cx="557.0" cy="966.6" r="10.3"/>
<circle cx="562.1" cy="966.6" r="10.3"/>
<circle cx="533.0" cy="969.6" r="10.3"/>
<circle cx="539.0" cy="969.6" r="10.3"/>
<circle cx="545.0" cy="969.6" r="10.3"/>
<circle cx="551.0" cy="969.6" r="10.3"/>
<circle cx="557.0" cy="969.6" r="10.3"/>
<circle cx="562.1" cy="969.6" r="10.3"/>
<circle cx="533.0" cy="972.6" r="10.3"/>
<circle cx="539.0" cy="972.6" r="10.3"/>
<circle cx="545.0" cy="972.6" r="10.3"/>
<circle cx="551.0" cy="972.6" r="10.3"/>
<circle cx="557.0" cy="972.6" r="10.3"/>
<circle cx="562.1" cy="972.6" r="10.3"/>
<circle cx="533.0" cy="975.6" r="10.3"/>
<circle cx="539.0" cy="975.6" r="10.3"/>
<circle cx="545.0" cy="975.6" r="10.3"/>
<circle cx="551.0" cy="975.6" r="10.3"/>
<circle cx="557.0" cy="975.6" r="10.3"/>
<circle cx="563.0" cy="975.6" r="10.3"/>
<circle cx="569.0" cy="975.6" r="10.3"/>
<circle cx="575.0" cy="975.6" r="10.3"/>
<circle cx="575.8" cy="975.6" r="10.3"/>
<circle cx="533.0" cy="978.6" r="10.3"/>
<circle cx="539.0" cy="978.6" r="10.3"/>
<circle cx="545.0" cy="978.6" r="10.3"/>
<circle cx="551.0" cy="978.6" r="10.3"/>
<circle cx="557.0" cy="978.6" r="10.3"/>
<circle cx="563.0" cy="978.6" r="10.3"/>
<circle cx="569.0" cy="978.6" r="10.3"/>
<circle cx="575.0" cy="978.6" r="10.3"/>
<circle cx="575.8" cy="978.6" r="10.3"/>
<circle cx="533.0" cy="981.6" r="10.3"/>
<circle cx="539.0" cy="981.6" r="10.3"/>
<circle cx="545.0" cy="981.6" r="10.3"/>
<circle cx="551.0" cy="981.6" r="10.3"/>
<circle cx="557.0" cy="981.6" r="10.3"/>
<circle cx="563.0" cy="981.6" r="10.3"/>
<circle cx="569.0" cy="981.6" r="10.3"/>
<circle cx="575.0" cy="981.6" r="10.3"/>
<circle cx="575.8" cy="981.6" r="10.3"/>
<circle cx="533.0" cy="984.6" r="10.3"/>
<circle cx="539.0" cy="984.6" r="10.3"/>
<circle cx="545.0" cy="984.6" r="10.3"/>
<circle cx="551.0" cy="984.6" r="10.3"/>
<circle cx="557.0" cy="984.6" r="10.3"/>
<circle cx="563.0" cy="984.6" r="10.3"/>
<circle cx="569.0" cy="984.6" r="10.3"/>
<circle cx="575.0" cy="984.6" r="10.3"/>
<circle cx="575.8" cy="984.6" r="10.3"/>
<circle cx="533.0" cy="987.6" r="10.3"/>
<circle cx="539.0" cy="987.6" r="10.3"/>
<circle cx="545.0" cy="987.6" r="10.3"/>
<circle cx="551.0" cy="987.6" r="10.3"/>
<circle cx="557.0" cy="987.6" r="10.3"/>
<circle cx="563.0" cy="987.6" r="10.3"/>
<circle cx="569.0" cy="987.6" r="10.3"/>
<circle cx="575.0" cy="987.6" r="10.3"/>
<circle cx="575.8" cy="987.6" r="10.3"/>
<circle cx="533.0" cy="990.6" r="10.3"/>
<circle cx="539.0" cy="990.6" r="10.3"/>
<circle cx="545.0" cy="990.6" r="10.3"/>
<circle cx="551.0" cy="990.6" r="10.3"/>
<circle cx="557.0" cy="990.6" r="10.3"/>
<circle cx="563.0" cy="990.6" r="10.3"/>
<circle cx="569.0" cy="990.6" r="10.3"/>
<circle cx="575.0" cy="990.6" r="10.3"/>
<circle cx="575.8" cy="990.6" r="10.3"/>
<circle cx="533.0" cy="993.6" r="10.3"/>
<circle cx="539.0" cy="993.6" r="10.3"/>
<circle cx="545.0" cy="993.6" r="10.3"/>
<circle cx="551.0" cy="993.6" r="10.3"/>
<circle cx="557.0" cy="993.6" r="10.3"/>
<circle cx="563.0" cy="993.6" r="10.3"/>
<circle cx="569.0" cy="993.6" r="10.3"/>
<circle cx="575.0" cy="993.6" r="10.3"/>
<circle cx="575.8" cy="993.6" r="10.3"/>
<circle cx="533.0" cy="996.6" r="10.3"/>
<circle cx="539.0" cy="996.6" r="10.3"/>
<circle cx="545.0" cy="996.6" r="10.3"/>
<circle cx="551.0" cy="996.6" r="10.3"/>
<circle cx="557.0" cy="996.6" r="10.3"/>
<circle cx="563.0" cy="996.6" r="10.3"/>
<circle cx="569.0" cy="996.6" r="10.3"/>
<circle cx="574.6" cy="996.6" r="10.3"/>
<circle cx="533.0" cy="999.6" r="10.3"/>
<circle cx="539.0" cy="999.6" r="10.3"/>
<circle cx="545.0" cy="999.6" r="10.3"/>
<circle cx="551.0" cy="999.6" r="10.3"/>
<circle cx="557.0" cy="999.6" r="10.3"/>
<circle cx="563.0" cy="999.6" r="10.3"/>
<circle cx="569.0" cy="999.6" r="10.3"/>
<circle cx="574.6" cy="999.6" r="10.3"/>
<circle cx="533.0" cy="1002.6" r="10.3"/>
<circle cx="539.0" cy="1002.6" r="10.3"/>
<circle cx="545.0" cy="1002.6" r="10.3"/>
<circle cx="551.0" cy="1002.6" r="10.3"/>
<circle cx="557.0" cy="1002.6" r="10.3"/>
<circle cx="563.0" cy="1002.6" r="10.3"/>
<circle cx="569.0" cy="1002.6" r="10.3"/>
<circle cx="574.6" cy="1002.6" r="10.3"/>
<circle cx="533.0" cy="1005.6" r="10.3"/>
<circle cx="539.0" cy="1005.6" r="10.3"/>
<circle cx="545.0" cy="1005.6" r="10.3"/>
<circle cx="551.0" cy="1005.6" r="10.3"/>
<circle cx="557.0" cy="1005.6" r="10.3"/>
<circle cx="563.0" cy="1005.6" r="10.3"/>
<circle cx="569.0" cy="1005.6" r="10.3"/>
<circle cx="574.6" cy="1005.6" r="10.3"/>
<circle cx="533.0" cy="1008.6" r="10.3"/>
<circle cx="539.0" cy="1008.6" r="10.3"/>
<circle cx="545.0" cy="1008.6" r="10.3"/>
<circle cx="551.0" cy="1008.6" r="10.3"/>
<circle cx="557.0" cy="1008.6" r="10.3"/>
<circle cx="563.0" cy="1008.6" r="10.3"/>
<circle cx="569.0" cy="1008.6" r="10.3"/>
<circle cx="574.6" cy="1008.6" r="10.3"/>
<circle cx="533.0" cy="1011.6" r="10.3"/>
<circle cx="539.0" cy="1011.6" r="10.3"/>
<circle cx="545.0" cy="1011.6" r="10.3"/>
<circle cx="551.0" cy="1011.6" r="10.3"/>
<circle cx="557.0" cy="1011.6" r="10.3"/>
<circle cx="563.0" cy="1011.6" r="10.3"/>
<circle cx="569.0" cy="1011.6" r="10.3"/>
<circle cx="574.6" cy="1011.6" r="10.3"/>
<circle cx="533.0" cy="1014.6" r="10.3"/>
<circle cx="539.0" cy="1014.6" r="10.3"/>
<circle cx="545.0" cy="1014.6" r="10.3"/>
<circle cx="551.0" cy="1014.6" r="10.3"/>
<circle cx="555.9" cy="1014.6" r="10.3"/>
<circle cx="533.0" cy="1017.6" r="10.3"/>
<circle cx="539.0" cy="1017.6" r="10.3"/>
<circle cx="545.0" cy="1017.6" r="10.3"/>
<circle cx="551.0" cy="1017.6" r="10.3"/>
<circle cx="555.9" cy="1017.6" r="10.3"/>
<circle cx="533.0" cy="1020.6" r="10.3"/>
<circle cx="539.0" cy="1020.6" r="10.3"/>
<circle cx="545.0" cy="1020.6" r="10.3"/>
<circle cx="551.0" cy="1020.6" r="10.3"/>
<circle cx="555.9" cy="1020.6" r="10.3"/>
<circle cx="533.0" cy="1023.6" r="10.3"/>
<circle cx="539.0" cy="1023.6" r="10.3"/>
<circle cx="542.1" cy="1023.6" r="10.3"/>
<circle cx="533.0" cy="1026.6" r="10.3"/>
<circle cx="539.0" cy="1026.6" r="10.3"/>
<circle cx="542.1" cy="1026.6" r="10.3"/>
<circle cx="533.0" cy="1029.6" r="10.3"/>
<circle cx="539.0" cy="1029.6" r="10.3"/>
<circle cx="542.1" cy="1029.6" r="10.3"/>
<circle cx="533.0" cy="1032.6" r="10.3"/>
<circle cx="539.0" cy="1032.6" r="10.3"/>
<circle cx="542.1" cy="1032.6" r="10.3"/>
<circle cx="533.0" cy="1035.6" r="10.3"/>
<circle cx="533.0" cy="1038.6" r="10.3"/>
<circle cx="533.0" cy="1041.6" r="10.3"/>
<circle cx="533.0" cy="1044.6" r="10.3"/>
<circle cx="533.0" cy="1047.6" r="10.3"/>
<circle cx="533.0" cy="1050.6" r="10.3"/>
<circle cx="533.0" cy="1053.6" r="10.3"/>
<circle cx="533.0" cy="1056.6" r="10.3"/>
</g>
<polygon fill="#999999" fill-opacity="0.4" points="533.0,875.9 552.6,866.6 572.2,857.3 591.9,848.0 611.5,838.7 631.1,829.4 650.7,820.1 670.4,810.8 690.0,801.5 709.6,791.9 729.2,782.0 748.8,772.0 768.5,762.0 788.1,751.9 807.7,741.7 827.3,731.5 847.0,721.3 866.6,711.0 886.2,700.7 905.8,690.3 925.5,680.0 945.1,669.6 964.7,659.2 984.3,648.8 1003.9,638.4 1023.6,628.0 1043.2,617.5 1062.8,607.1 1082.4,596.7 1102.1,586.2 1121.7,575.8 1141.3,565.3 1160.9,554.8 1180.5,544.4 1200.2,533.9 1219.8,523.4 1239.4,513.0 1259.0,502.5 1278.7,492.0 1298.3,481.5 1317.9,471.1 1337.5,460.6 1357.1,450.1 1376.8,439.6 1396.4,429.1 1416.0,418.6 1435.6,408.1 1455.3,397.6 1474.9,387.2 1494.5,376.7 1514.1,366.2 1533.7,355.7 1553.4,345.2 1573.0,334.7 1592.6,324.2 1612.2,313.7 1631.9,303.2 1651.5,292.7 1671.1,282.2 1690.7,271.7 1710.4,261.2 1730.0,250.7 1749.6,240.2 1769.2,229.7 1788.8,219.2 1808.5,208.7 1828.1,198.2 1847.7,187.7 1867.3,177.2 1887.0,166.7 1906.6,156.2 1926.2,145.7 1945.8,135.2 1965.4,124.7 1985.1,114.2 2004.7,103.7 2024.3,93.2 2043.9,82.7 2063.6,72.2 2083.2,61.7 2102.8,51.2 2102.8,147.4 2083.2,156.5 2063.6,165.7 2043.9,174.9 2024.3,184.1 2004.7,193.3 1985.1,202.4 1965.4,211.6 1945.8,220.8 1926.2,230.0 1906.6,239.2 1887.0,248.3 1867.3,257.5 1847.7,266.7 1828.1,275.9 1808.5,285.1 1788.8,294.2 1769.2,303.4 1749.6,312.6 1730.0,321.8 1710.4,331.0 1690.7,340.2 1671.1,349.3 1651.5,358.5 1631.9,367.7 1612.2,376.9 1592.6,386.1 1573.0,395.3 1553.4,404.4 1533.7,413.6 1514.1,422.8 1494.5,432.0 1474.9,441.2 1455.3,450.4 1435.6,459.6 1416.0,468.8 1396.4,478.0 1376.8,487.2 1357.1,496.4 1337.5,505.6 1317.9,514.7 1298.3,523.9 1278.7,533.1 1259.0,542.4 1239.4,551.6 1219.8,560.8 1200.2,570.0 1180.5,579.2 1160.9,588.4 1141.3,597.6 1121.7,606.8 1102.1,616.1 1082.4,625.3 1062.8,634.5 1043.2,643.8 1023.6,653.0 1003.9,662.3 984.3,671.6 964.7,680.8 945.1,690.1 925.5,699.4 905.8,708.8 886.2,718.1 866.6,727.5 847.0,736.9 827.3,746.3 807.7,755.8 788.1,765.3 768.5,774.9 748.8,784.5 729.2,794.2 709.6,803.9 690.0,814.1 670.4,824.4 650.7,834.8 631.1,845.2 611.5,855.6 591.9,866.0 572.2,876.3 552.6,886.7 533.0,897.1"/>
<line x1="533.0" y1="886.5" x2="2102.8" y2="99.3" stroke="#000" stroke-width="9"/>
<g stroke="#333" stroke-width="4.8">
<line x1="533.0" x2="533.0" y1="1108.3" y2="1120.6"/>
<line x1="983.0" x2="983.0" y1="1108.3" y2="1120.6"/>
<line x1="1433.0" x2="1433.0" y1="1108.3" y2="1120.6"/>
<line x1="1883.0" x2="1883.0" y1="1108.3" y2="1120.6"/>
<line y1="1073.0" y2="1073.0" x1="442.5" x2="455.0"/>
<line y1="742.1" y2="742.1" x1="442.5" x2="455.0"/>
<line y1="411.2" y2="411.2" x1="442.5" x2="455.0"/>
<line y1="80.3" y2="80.3" x1="442.5" x2="455.0"/>
</g>
<g fill="#4D4D4D" font-size="40">
<text x="533.0" y="1159.3" text-anchor="middle">0.00</text>
<text x="983.0" y="1159.3" text-anchor="middle">0.25</text>
<text x="1433.0" y="1159.3" text-anchor="middle">0.50</text>
<text x="1883.0" y="1159.3" text-anchor="middle">0.75</text>
<text x="433" y="1087.5" text-anchor="end">0.0</text>
<text x="433" y="756.6" text-anchor="end">0.2</text>
<text x="433" y="425.7" text-anchor="end">0.4</text>
<text x="433" y="94.8" text-anchor="end">0.6</text>
</g>
<text transform="translate(1318,1214.6) scale(0.97,1)" text-anchor="middle" font-size="50" fill="#000">Spawning probability from the BRT models</text>
<text transform="translate(355,554) rotate(-90) scale(0.97,1)" text-anchor="middle" font-size="50" fill="#000">Spawning probability from RF models</text>
<g font-weight="bold" font-size="41.7" fill="#000">
<text x="19" y="47.5">A</text><text x="20" y="1299">B</text><text x="1281" y="1299">C</text></g>
<rect x="147.4" y="1263.0" width="1078.3999999999999" height="75.59999999999991" fill="#D9D9D9"/>
<rect x="147.4" y="1338.6" width="1078.3999999999999" height="873.0" fill="#EBEBEB"/>
<g stroke="#fff" stroke-width="2.4">
<line x1="355.3" x2="355.3" y1="1338.6" y2="2211.6"/>
<line x1="640.5" x2="640.5" y1="1338.6" y2="2211.6"/>
<line x1="925.7" x2="925.7" y1="1338.6" y2="2211.6"/>
<line x1="1210.9" x2="1210.9" y1="1338.6" y2="2211.6"/>
<line y1="2078.7" y2="2078.7" x1="147.4" x2="1225.8"/>
<line y1="1891.4" y2="1891.4" x1="147.4" x2="1225.8"/>
<line y1="1704.1" y2="1704.1" x1="147.4" x2="1225.8"/>
<line y1="1516.8" y2="1516.8" x1="147.4" x2="1225.8"/>
</g>
<g stroke="#fff" stroke-width="4.8">
<line x1="212.7" x2="212.7" y1="1338.6" y2="2211.6"/>
<line x1="497.9" x2="497.9" y1="1338.6" y2="2211.6"/>
<line x1="783.1" x2="783.1" y1="1338.6" y2="2211.6"/>
<line x1="1068.3" x2="1068.3" y1="1338.6" y2="2211.6"/>
<line y1="2172.3" y2="2172.3" x1="147.4" x2="1225.8"/>
<line y1="1985.0" y2="1985.0" x1="147.4" x2="1225.8"/>
<line y1="1797.7" y2="1797.7" x1="147.4" x2="1225.8"/>
<line y1="1610.4" y2="1610.4" x1="147.4" x2="1225.8"/>
<line y1="1423.1" y2="1423.1" x1="147.4" x2="1225.8"/>
</g>
<g fill="#595959">
<rect x="196.35" y="1865.1" width="32.70" height="307.2"/>
<rect x="229.05" y="1378.1" width="32.70" height="794.2"/>
<rect x="261.75" y="1704.1" width="32.70" height="468.2"/>
<rect x="294.45" y="1985.0" width="32.70" height="187.3"/>
<rect x="327.15" y="1970.0" width="32.70" height="202.3"/>
<rect x="359.85" y="1988.7" width="32.70" height="183.6"/>
<rect x="392.55" y="2026.2" width="32.70" height="146.1"/>
<rect x="425.25" y="2056.2" width="32.70" height="116.1"/>
<rect x="457.95" y="2101.1" width="32.70" height="71.2"/>
<rect x="490.65" y="2131.1" width="32.70" height="41.2"/>
<rect x="523.35" y="2108.6" width="32.70" height="63.7"/>
<rect x="556.05" y="2093.6" width="32.70" height="78.7"/>
<rect x="588.75" y="2134.8" width="32.70" height="37.5"/>
<rect x="621.45" y="2153.6" width="32.70" height="18.7"/>
<rect x="654.15" y="2138.6" width="32.70" height="33.7"/>
<rect x="686.85" y="2127.3" width="32.70" height="45.0"/>
<rect x="719.55" y="2142.3" width="32.70" height="30.0"/>
<rect x="752.25" y="2112.4" width="32.70" height="59.9"/>
<rect x="784.95" y="2153.6" width="32.70" height="18.7"/>
<rect x="817.65" y="2149.8" width="32.70" height="22.5"/>
<rect x="850.35" y="2138.6" width="32.70" height="33.7"/>
<rect x="883.05" y="2157.3" width="32.70" height="15.0"/>
<rect x="915.75" y="2157.3" width="32.70" height="15.0"/>
<rect x="948.45" y="2161.1" width="32.70" height="11.2"/>
<rect x="981.15" y="2161.1" width="32.70" height="11.2"/>
<rect x="1013.85" y="2164.8" width="32.70" height="7.5"/>
<rect x="1046.55" y="2164.8" width="32.70" height="7.5"/>
<rect x="1079.25" y="2168.6" width="32.70" height="3.7"/>
<rect x="1144.65" y="2168.6" width="32.70" height="3.7"/>
</g>
<line x1="925.7" x2="925.7" y1="2211.6" y2="1338.6" stroke="#000" stroke-width="4.8"/>
<g stroke="#333" stroke-width="4.8">
<line x1="212.7" x2="212.7" y1="2211.6" y2="2223.9"/>
<line x1="497.9" x2="497.9" y1="2211.6" y2="2223.9"/>
<line x1="783.1" x2="783.1" y1="2211.6" y2="2223.9"/>
<line x1="1068.3" x2="1068.3" y1="2211.6" y2="2223.9"/>
<line y1="2172.3" y2="2172.3" x1="134.9" x2="147.4"/>
<line y1="1985.0" y2="1985.0" x1="134.9" x2="147.4"/>
<line y1="1797.7" y2="1797.7" x1="134.9" x2="147.4"/>
<line y1="1610.4" y2="1610.4" x1="134.9" x2="147.4"/>
<line y1="1423.1" y2="1423.1" x1="134.9" x2="147.4"/>
</g>
<g fill="#4D4D4D" font-size="40">
<text x="212.7" y="2262.5" text-anchor="middle">0.0</text>
<text x="497.9" y="2262.5" text-anchor="middle">0.2</text>
<text x="783.1" y="2262.5" text-anchor="middle">0.4</text>
<text x="1068.3" y="2262.5" text-anchor="middle">0.6</text>
<text x="125.5" y="2186.8" text-anchor="end">0</text>
<text x="125.5" y="1999.5" text-anchor="end">50</text>
<text x="125.5" y="1812.2" text-anchor="end">100</text>
<text x="125.5" y="1624.9" text-anchor="end">150</text>
<text x="125.5" y="1437.6" text-anchor="end">200</text>
</g>
<text x="686.6" y="1315.1" text-anchor="middle" font-size="40" fill="#1A1A1A">Atlantic</text>
<text transform="translate(686.6,2317.6) scale(0.97,1)" text-anchor="middle" font-size="50" fill="#000">Spawning probability</text>
<text transform="translate(37,1775.1) rotate(-90) scale(0.97,1)" text-anchor="middle" font-size="50" fill="#000">Counts</text>
<rect x="1398.6" y="1263.0" width="1100.4" height="75.59999999999991" fill="#D9D9D9"/>
<rect x="1398.6" y="1338.6" width="1100.4" height="873.0" fill="#EBEBEB"/>
<g stroke="#fff" stroke-width="2.4">
<line x1="1569.3" x2="1569.3" y1="1338.6" y2="2211.6"/>
<line x1="1777.8" x2="1777.8" y1="1338.6" y2="2211.6"/>
<line x1="1986.3" x2="1986.3" y1="1338.6" y2="2211.6"/>
<line x1="2194.8" x2="2194.8" y1="1338.6" y2="2211.6"/>
<line x1="2403.3" x2="2403.3" y1="1338.6" y2="2211.6"/>
<line y1="2081.6" y2="2081.6" x1="1398.6" x2="2499.0"/>
<line y1="1901.4" y2="1901.4" x1="1398.6" x2="2499.0"/>
<line y1="1721.2" y2="1721.2" x1="1398.6" x2="2499.0"/>
<line y1="1541.0" y2="1541.0" x1="1398.6" x2="2499.0"/>
<line y1="1360.8" y2="1360.8" x1="1398.6" x2="2499.0"/>
</g>
<g stroke="#fff" stroke-width="4.8">
<line x1="1465.1" x2="1465.1" y1="1338.6" y2="2211.6"/>
<line x1="1673.6" x2="1673.6" y1="1338.6" y2="2211.6"/>
<line x1="1882.1" x2="1882.1" y1="1338.6" y2="2211.6"/>
<line x1="2090.6" x2="2090.6" y1="1338.6" y2="2211.6"/>
<line x1="2299.1" x2="2299.1" y1="1338.6" y2="2211.6"/>
<line y1="2171.7" y2="2171.7" x1="1398.6" x2="2499.0"/>
<line y1="1991.5" y2="1991.5" x1="1398.6" x2="2499.0"/>
<line y1="1811.3" y2="1811.3" x1="1398.6" x2="2499.0"/>
<line y1="1631.1" y2="1631.1" x1="1398.6" x2="2499.0"/>
<line y1="1450.9" y2="1450.9" x1="1398.6" x2="2499.0"/>
</g>
<g fill="#595959">
<rect x="1448.30" y="1919.4" width="33.36" height="252.3"/>
<rect x="1481.66" y="1595.1" width="33.36" height="576.6"/>
<rect x="1515.02" y="1378.8" width="33.36" height="792.9"/>
<rect x="1548.38" y="1811.3" width="33.36" height="360.4"/>
<rect x="1581.74" y="2099.6" width="33.36" height="72.1"/>
<rect x="1615.10" y="1703.2" width="33.36" height="468.5"/>
<rect x="1648.46" y="1703.2" width="33.36" height="468.5"/>
<rect x="1681.82" y="1991.5" width="33.36" height="180.2"/>
<rect x="1715.18" y="1991.5" width="33.36" height="180.2"/>
<rect x="1748.54" y="2063.6" width="33.36" height="108.1"/>
<rect x="1781.90" y="1883.4" width="33.36" height="288.3"/>
<rect x="1815.26" y="2099.6" width="33.36" height="72.1"/>
<rect x="1848.62" y="2063.6" width="33.36" height="108.1"/>
<rect x="1881.98" y="2063.6" width="33.36" height="108.1"/>
<rect x="1915.34" y="2063.6" width="33.36" height="108.1"/>
<rect x="1948.70" y="2135.7" width="33.36" height="36.0"/>
<rect x="2015.42" y="2099.6" width="33.36" height="72.1"/>
<rect x="2048.78" y="2063.6" width="33.36" height="108.1"/>
<rect x="2248.94" y="2099.6" width="33.36" height="72.1"/>
<rect x="2415.74" y="2135.7" width="33.36" height="36.0"/>
</g>
<line x1="2090.6" x2="2090.6" y1="2211.6" y2="1338.6" stroke="#000" stroke-width="4.8" stroke-dasharray="18.9 18.9"/>
<g stroke="#333" stroke-width="4.8">
<line x1="1465.1" x2="1465.1" y1="2211.6" y2="2223.9"/>
<line x1="1673.6" x2="1673.6" y1="2211.6" y2="2223.9"/>
<line x1="1882.1" x2="1882.1" y1="2211.6" y2="2223.9"/>
<line x1="2090.6" x2="2090.6" y1="2211.6" y2="2223.9"/>
<line x1="2299.1" x2="2299.1" y1="2211.6" y2="2223.9"/>
<line y1="2171.7" y2="2171.7" x1="1386.1" x2="1398.6"/>
<line y1="1991.5" y2="1991.5" x1="1386.1" x2="1398.6"/>
<line y1="1811.3" y2="1811.3" x1="1386.1" x2="1398.6"/>
<line y1="1631.1" y2="1631.1" x1="1386.1" x2="1398.6"/>
<line y1="1450.9" y2="1450.9" x1="1386.1" x2="1398.6"/>
</g>
<g fill="#4D4D4D" font-size="40">
<text x="1465.1" y="2262.5" text-anchor="middle">0.0</text>
<text x="1673.6" y="2262.5" text-anchor="middle">0.1</text>
<text x="1882.1" y="2262.5" text-anchor="middle">0.2</text>
<text x="2090.6" y="2262.5" text-anchor="middle">0.3</text>
<text x="2299.1" y="2262.5" text-anchor="middle">0.4</text>
<text x="1376.7" y="2186.2" text-anchor="end">0</text>
<text x="1376.7" y="2006.0" text-anchor="end">5</text>
<text x="1376.7" y="1825.8" text-anchor="end">10</text>
<text x="1376.7" y="1645.6" text-anchor="end">15</text>
<text x="1376.7" y="1465.4" text-anchor="end">20</text>
</g>
<text x="1948.8" y="1315.1" text-anchor="middle" font-size="40" fill="#1A1A1A">GoM</text>
<text transform="translate(1948.8,2317.6) scale(0.97,1)" text-anchor="middle" font-size="50" fill="#000">Spawning probability</text>
<text transform="translate(1310,1775.1) rotate(-90) scale(0.97,1)" text-anchor="middle" font-size="50" fill="#000">Counts</text>
</svg></body></html>
